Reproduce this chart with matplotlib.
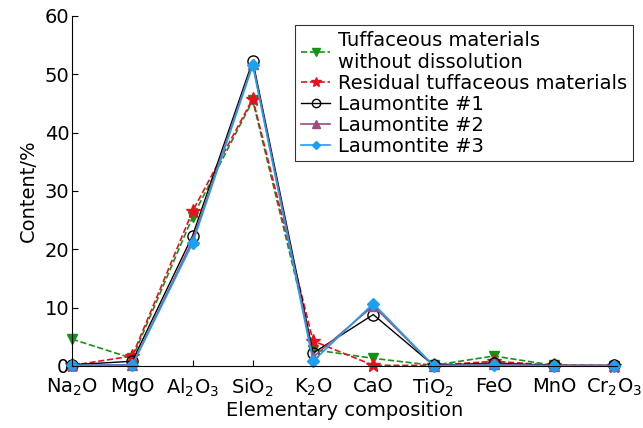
import matplotlib.pyplot as plt
import numpy as np

plt.rcParams['font.family'] = ['DejaVu Sans']

oxides = ['Na$_2$O', 'MgO', 'Al$_2$O$_3$', 'SiO$_2$', 'K$_2$O', 'CaO', 'TiO$_2$', 'FeO', 'MnO', 'Cr$_2$O$_3$']
tuff_fresh = [4.6, 1.3, 25.5, 45.5, 2.8, 1.3, 0.1, 1.7, 0.1, 0.05]
tuff_resid = [0.1, 1.7, 26.5, 45.8, 4.3, 0.1, 0.1, 0.8, 0.1, 0.05]
laum_1 = [0.2, 0.8, 22.3, 52.3, 2.2, 8.8, 0.1, 0.5, 0.1, 0.1]
laum_2 = [0.1, 0.2, 21.5, 51.8, 1.5, 10.3, 0.05, 0.3, 0.05, 0.05]
laum_3 = [0.1, 0.1, 21.0, 51.5, 0.8, 10.7, 0.05, 0.1, 0.05, 0.05]

x = np.arange(len(oxides))

fig = plt.figure(figsize=(6.43, 4.28), dpi=100)
ax = fig.add_axes([0.112, 0.145, 0.848, 0.818])

ax.plot(x, tuff_fresh, '--', color='#149414', marker='v', ms=7, lw=1.2,
        label='Tuffaceous materials\nwithout dissolution')
ax.plot(x, tuff_resid, '--', color='#e8101e', marker='*', ms=10, lw=1.2,
        label='Residual tuffaceous materials')
ax.plot(x, laum_1, '-', color='black', marker='o', mfc='none', ms=8, lw=1.0,
        label='Laumontite #1')
ax.plot(x, laum_2, '-', color='#a04c7c', marker='^', ms=7, lw=1.2,
        label='Laumontite #2')
ax.plot(x, laum_3, '-', color='#1ea0f0', marker='D', ms=6, lw=1.2,
        label='Laumontite #3')

ax.set_xlim(0, 9.05)
ax.set_ylim(0, 60)
ax.set_xticks(x)
ax.set_xticklabels(oxides)
ax.set_yticks([0, 10, 20, 30, 40, 50, 60])
ax.tick_params(direction='in', labelsize=14, length=4, pad=2)
ax.tick_params(axis='x', pad=8)
ax.spines['top'].set_visible(False)
ax.spines['right'].set_visible(False)
for c in ax.get_children():
    if hasattr(c, 'set_clip_on'):
        c.set_clip_on(False)

ax.set_xlabel('Elementary composition', fontsize=14, labelpad=1)
ax.set_ylabel('Content/%', fontsize=14, labelpad=5)

leg = ax.legend(loc='upper right', bbox_to_anchor=(633 / 643, 1 - 25 / 428),
                bbox_transform=fig.transFigure, borderaxespad=0, fontsize=14,
                frameon=True, fancybox=False, edgecolor='black',
                handlelength=1.5, handletextpad=0.4, labelspacing=0.1,
                borderpad=0.3, markerscale=0.75)
leg.get_frame().set_linewidth(0.8)

fig.savefig('out.png', dpi=100)
